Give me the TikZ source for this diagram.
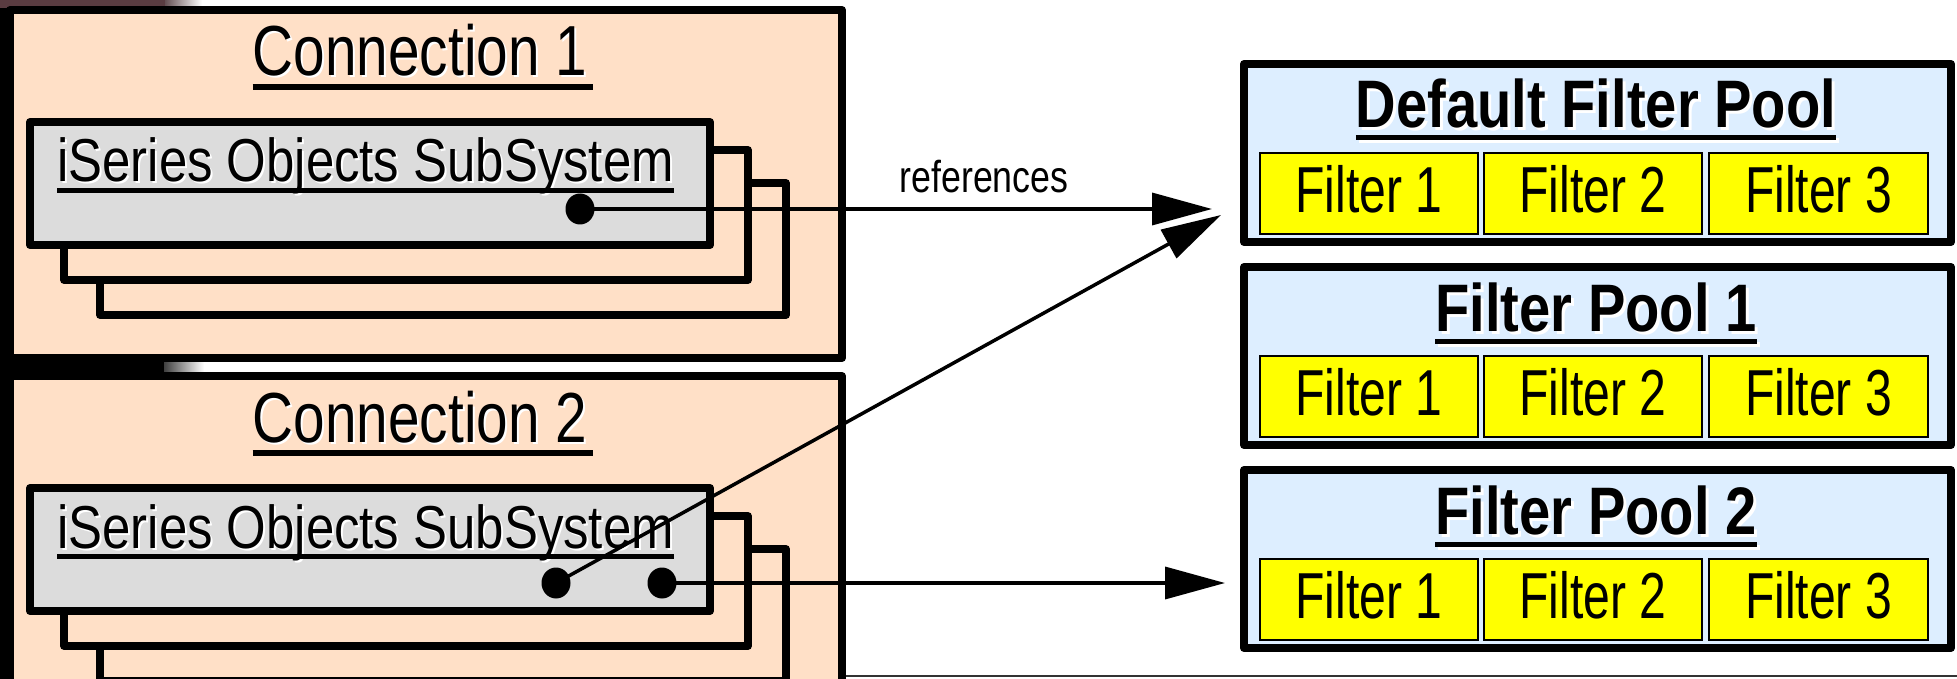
\documentclass[tikz,border=0pt]{standalone}
\usepackage{fontspec}
\setmainfont{Liberation Sans}
\newfontfamily\condf[FakeStretch=0.8]{Liberation Sans}
\newfontfamily\subf[FakeStretch=0.84]{Liberation Sans}
\newfontfamily\filtf[FakeStretch=0.74]{Liberation Sans}
\newfontfamily\titlef[FakeStretch=0.835]{Liberation Sans}
\usetikzlibrary{arrows.meta,shapes.geometric}
\definecolor{peach}{RGB}{255,224,199}
\definecolor{subgray}{RGB}{220,220,220}
\definecolor{poolblue}{RGB}{221,238,255}
\definecolor{filtyellow}{RGB}{255,255,0}
\definecolor{photo}{RGB}{90,60,65}
\begin{document}
\begin{tikzpicture}[x=1pt,y=-1pt,
  connbox/.style={draw=black,line width=8pt,fill=peach,line join=round,rectangle,inner sep=0pt},
  stackbox/.style={draw=black,line width=7.5pt,fill=peach,line join=round,rectangle,inner sep=0pt},
  subbox/.style={draw=black,line width=8pt,fill=subgray,line join=round,rectangle,inner sep=0pt},
  poolbox/.style={draw=black,line width=8pt,fill=poolblue,line join=round,rectangle,inner sep=0pt,minimum width=707pt,minimum height=178pt},
  filterbox/.style={draw=black,line width=2pt,fill=filtyellow,rectangle,inner sep=0pt,minimum width=218pt,minimum height=81pt},
  conntext/.style={anchor=base,inner sep=0pt,font=\condf\fontsize{70.9}{80}\selectfont},
  subtext/.style={anchor=base west,inner sep=0pt,font=\subf\fontsize{60.6}{70}\selectfont},
  reftext/.style={anchor=base,inner sep=0pt,font=\condf\fontsize{44.7}{50}\selectfont},
  pooltext/.style={anchor=base,inner sep=0pt,font=\titlef\bfseries\fontsize{67.2}{76}\selectfont},
  filttext/.style={anchor=base,inner sep=0pt,font=\filtf\fontsize{65}{70}\selectfont},
  dotnode/.style={ellipse,fill=black,inner sep=0pt,minimum width=29pt,minimum height=31pt},
  conn/.style={draw=black,line width=3.5pt,-{Triangle[length=60pt,width=32pt]}}
]
\useasboundingbox (0,0) rectangle (1957,679);
\fill[white] (0,0) rectangle (1957,679);
% photo remnants at the left edge
\fill[black] (0,0) rectangle (8,679);
\fill[photo] (0,0) rectangle (165,8);
\shade[left color=photo!70!gray,right color=white] (165,0) rectangle (202,8);
\fill[black] (0,355) rectangle (164,378);
\shade[left color=black!75,right color=white] (164,355) rectangle (204,378);
% bottom thin line
\draw[black!80,line width=2pt] (846,676) -- (1957,676);

% connection boxes
\node[connbox,minimum width=832pt,minimum height=348pt] (c1) at (426,184) {};
\node[connbox,minimum width=832pt,minimum height=348pt] (c2) at (426,550) {};

% stacked subsystem boxes, connection 1
\node[stackbox,minimum width=686pt,minimum height=132pt] (s1c) at (443,249) {};
\node[stackbox,minimum width=684pt,minimum height=130pt] (s1b) at (406,215) {};
\node[subbox,minimum width=680pt,minimum height=123pt] (s1a) at (370,183.5) {};
% stacked subsystem boxes, connection 2
\node[stackbox,minimum width=686pt,minimum height=132pt] (s2c) at (443,615) {};
\node[stackbox,minimum width=684pt,minimum height=130pt] (s2b) at (406,581) {};
\node[subbox,minimum width=680pt,minimum height=123pt] (s2a) at (370,549.5) {};

% connection titles
\node[conntext,white] at (422,78) {Connection 1};
\node[conntext] (t1) at (420,76) {Connection 1};
\draw[line width=6pt] ([shift={(0,11)}]t1.base west) -- ([shift={(6,11)}]t1.base east);
\node[conntext,white] at (422,444) {Connection 2};
\node[conntext] (t2) at (420,442) {Connection 2};
\draw[line width=6pt] ([shift={(0,11)}]t2.base west) -- ([shift={(6,11)}]t2.base east);

% subsystem labels
\node[subtext,white] at (59,184) {iSeries Objects SubSystem};
\node[subtext] (u1) at (57,182) {iSeries Objects SubSystem};
\draw[line width=4.5pt] ([shift={(0,8.5)}]u1.base west) -- ([shift={(0,8.5)}]u1.base east);
\node[subtext,white] at (59,550) {iSeries Objects SubSystem};
\node[subtext] (u2) at (57,548) {iSeries Objects SubSystem};
\draw[line width=4.5pt] ([shift={(0,8.5)}]u2.base west) -- ([shift={(0,8.5)}]u2.base east);

% filter pools
\foreach \k/\name/\ttl in {0/p0/Default Filter Pool,1/p1/Filter Pool 1,2/p2/Filter Pool 2}{
  \node[poolbox] (\name) at (1597.5,153+203*\k) {};
  \node[pooltext,white] at (1599,131+203*\k) {\ttl};
  \node[pooltext] (\name t) at (1596,128+203*\k) {\ttl};
  \draw[white,line width=5pt] ([shift={(3,13)}]\name t.base west) -- ([shift={(3,13)}]\name t.base east);
  \draw[line width=5pt] ([shift={(0,10)}]\name t.base west) -- ([shift={(0,10)}]\name t.base east);
  \node[filterbox] (\name f1) at (1369,193.5+203*\k) {};
  \node[filterbox] (\name f2) at (1593,193.5+203*\k) {};
  \node[filterbox,minimum width=219pt] (\name f3) at (1818.5,193.5+203*\k) {};
  \node[filttext] at ([shift={(0,19)}]\name f1.center) {Filter 1};
  \node[filttext] at ([shift={(0,19)}]\name f2.center) {Filter 2};
  \node[filttext] at ([shift={(0,19)}]\name f3.center) {Filter 3};
}

% reference dots and arrows
\node[dotnode] (d1) at (580,209) {};
\node[dotnode] (d2) at (556,583) {};
\node[dotnode] (d3) at (662,583) {};
\coordinate (e1) at (1212,209);
\coordinate (e2) at (1221,215);
\coordinate (e3) at (1225,583);
\draw[conn] (d1.center) -- (e1);
\draw[conn] (d2.center) -- (e2);
\draw[conn] (d3.center) -- (e3);
\node[reftext] (ref) at (984,193) {references};
\end{tikzpicture}
\end{document}
